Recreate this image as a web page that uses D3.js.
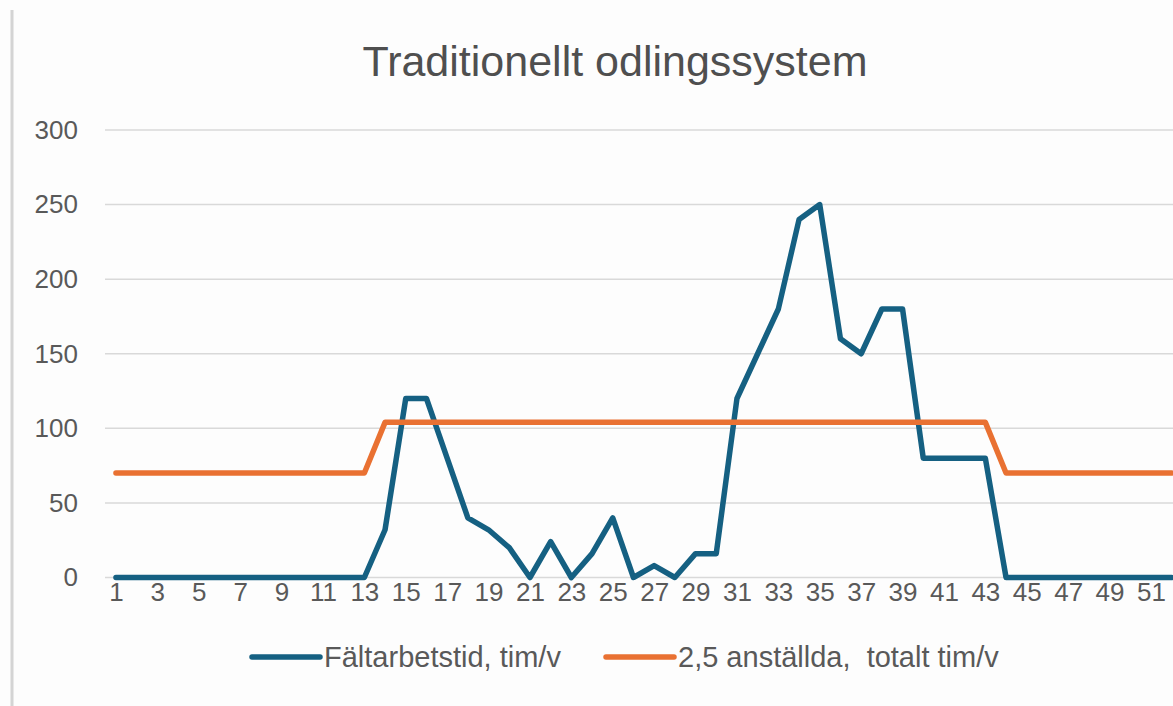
<!DOCTYPE html>
<html>
<head>
<meta charset="utf-8">
<script src="https://cdn.jsdelivr.net/npm/d3@7"></script>
<style>
  body { margin: 0; background: #fdfdfd; }
  svg { display: block; font-family: "Liberation Sans", Arial, sans-serif; }
</style>
</head>
<body>
<svg id="chart"></svg>
<script>
// week numbers (categories)
const weeks = [1, 2, 3, 4, 5, 6, 7, 8, 9, 10, 11, 12, 13, 14, 15, 16, 17, 18, 19, 20, 21, 22, 23, 24, 25, 26,
    27, 28, 29, 30, 31, 32, 33, 34, 35, 36, 37, 38, 39, 40, 41, 42, 43, 44, 45, 46, 47, 48, 49, 50, 51, 52];

// Fältarbetstid, tim/v
const fieldHours = [0, 0, 0, 0, 0, 0, 0, 0, 0, 0, 0, 0, 0, 32, 120, 120, 80, 40, 32, 20, 0, 24, 0, 16, 40, 0,
    8, 0, 16, 16, 120, 150, 180, 240, 250, 160, 150, 180, 180, 80, 80, 80, 80, 0, 0, 0, 0, 0, 0, 0, 0, 0];

// 2,5 anställda, totalt tim/v
const staffHours = [70, 70, 70, 70, 70, 70, 70, 70, 70, 70, 70, 70, 70, 104, 104, 104, 104, 104, 104, 104, 104, 104, 104, 104, 104, 104,
    104, 104, 104, 104, 104, 104, 104, 104, 104, 104, 104, 104, 104, 104, 104, 104, 104, 70, 70, 70, 70, 70, 70, 70, 70, 70];

const yTicks = [0, 50, 100, 150, 200, 250, 300];
const xTickLabels = [1, 3, 5, 7, 9, 11, 13, 15, 17, 19, 21, 23, 25, 27, 29, 31, 33, 35, 37, 39, 41, 43, 45, 47, 49, 51];

const seriesNames = ["Fältarbetstid, tim/v", "2,5 anställda,  totalt tim/v"];
const colors = ["#156082", "#e97132"];

const width = 1173;
const height = 706;

const svg = d3.select("#chart")
    .attr("width", width)
    .attr("height", height);

// chart area border on the left
svg.append("line")
    .attr("x1", 12).attr("x2", 12)
    .attr("y1", 10).attr("y2", height)
    .attr("stroke", "#d4d4d4")
    .attr("stroke-width", 3);

const x = d3.scalePoint()
    .domain(weeks)
    .range([105.6, 1182])
    .padding(0.5);

const y = d3.scaleLinear()
    .domain([0, 300])
    .range([577.5, 130]);

// gridlines
svg.append("g")
    .selectAll("line")
    .data(yTicks)
    .join("line")
    .attr("x1", 105)
    .attr("x2", 1182)
    .attr("y1", d => y(d))
    .attr("y2", d => y(d))
    .attr("stroke", "#d9d9d9")
    .attr("stroke-width", 1.5);

const yAxis = svg.append("g")
    .attr("transform", "translate(105,0)")
    .call(d3.axisLeft(y).tickValues(yTicks).tickSize(0).tickPadding(27));
yAxis.select(".domain").remove();
yAxis.selectAll("text")
    .attr("fill", "#595959")
    .style("font-size", "26px");

const xAxis = svg.append("g")
    .attr("transform", `translate(0,${y(0)})`)
    .call(d3.axisBottom(x).tickValues(xTickLabels).tickSize(0).tickPadding(5));
xAxis.select(".domain").remove();
xAxis.selectAll("text")
    .attr("fill", "#595959")
    .style("font-size", "26px");

const line = d3.line()
    .x((d, i) => x(weeks[i]))
    .y(d => y(d));

[fieldHours, staffHours].forEach((values, k) => {
    svg.append("path")
        .datum(values)
        .attr("d", line)
        .attr("fill", "none")
        .attr("stroke", colors[k])
        .attr("stroke-width", 5.5)
        .attr("stroke-linejoin", "round")
        .attr("stroke-linecap", "round");
});

// title
svg.append("text")
    .attr("x", 615)
    .attr("y", 76)
    .attr("text-anchor", "middle")
    .attr("fill", "#4f4f4f")
    .style("font-size", "43px")
    .text("Traditionellt odlingssystem");

// legend
const legendX = [252, 606];
const legend = svg.append("g")
    .selectAll("g")
    .data(seriesNames)
    .join("g")
    .attr("transform", (d, i) => `translate(${legendX[i]},657)`);

legend.append("line")
    .attr("x1", 0).attr("x2", 68)
    .attr("stroke", (d, i) => colors[i])
    .attr("stroke-width", 5.5)
    .attr("stroke-linecap", "round");

legend.append("text")
    .attr("x", 72)
    .attr("dy", "0.35em")
    .attr("fill", "#595959")
    .style("font-size", "29px")
    .style("white-space", "pre")
    .text(d => d);
</script>
</body>
</html>
